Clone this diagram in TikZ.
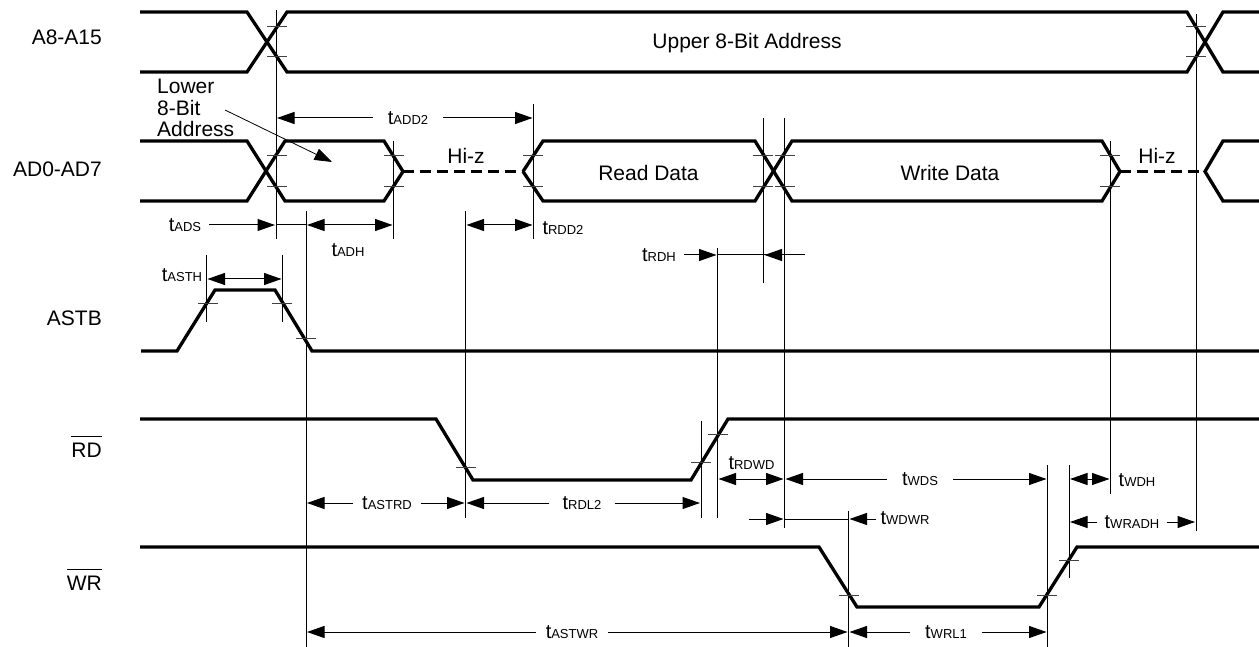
\documentclass[tikz,border=0pt]{standalone}
\usepackage{fontspec}
\setmainfont{Liberation Sans}
\usetikzlibrary{arrows.meta, calc}
\newcommand{\tsub}[1]{t{\fontsize{13}{13}\selectfont #1}}
\newcommand{\nbar}[1]{\vbox{\hrule height 0.9pt \kern 6pt \hbox{#1}}}
\tikzset{
    wave/.style={line width=3.3pt},
    hiz/.style={line width=3.3pt, dash pattern=on 11pt off 6pt},
    vmark/.style={line width=1pt},
    tickmark/.style={line width=1pt, black!75},
    dim/.style={line width=1pt, -{Triangle[length=17.5pt,width=12pt]}, shorten >=1pt},
    dimboth/.style={dim, {Triangle[length=17.5pt,width=12pt]}-{Triangle[length=17.5pt,width=12pt]}, shorten <=1pt},
    sigtext/.style={anchor=base east, inner sep=0pt, font=\fontsize{21}{21.5}\selectfont},
    wavetext/.style={anchor=base, inner sep=0pt, font=\fontsize{21}{21.5}\selectfont},
    tlabel/.style={inner ysep=0pt, font=\fontsize{20}{20}\selectfont},
}
\begin{document}
\begin{tikzpicture}[x=1pt,y=-1pt]
    \useasboundingbox (0,0) rectangle (1259,647);
    \node[sigtext] (A8) at (102,45) {A8-A15};
    \node[sigtext] (AD) at (102,177) {AD0-AD7};
    \node[sigtext] (ASTB) at (102,325) {ASTB};
    \node[sigtext] (RD) at (102,457.7) {\nbar{RD}};
    \node[sigtext] (WR) at (102,590) {\nbar{WR}};
    \draw[wave] (140,12) -- (247,12) -- (287,72) -- (1187,72) -- (1223,12) -- (1259,12);
    \draw[wave] (140,72) -- (247,72) -- (287,12) -- (1187,12) -- (1223,72) -- (1259,72);
    \draw[wave] (140,141) -- (247,141) -- (285,201) -- (384,201) -- (403,171.5);
    \draw[wave] (140,201) -- (247,201) -- (285,141) -- (384,141) -- (403,171.5);
    \draw[hiz] (403,171.5) -- (523,171.5);
    \draw[wave] (523,171.5) -- (543,141) -- (755,141) -- (792,201) -- (1102,201) -- (1120,171.5);
    \draw[wave] (523,171.5) -- (543,201) -- (755,201) -- (792,141) -- (1102,141) -- (1120,171.5);
    \draw[hiz] (1120,171.5) -- (1205,171.5);
    \draw[wave] (1259,141) -- (1223,141) -- (1205,171.5) -- (1223,201) -- (1259,201);
    \draw[wave] (141,351) -- (177,351) -- (215,290) -- (275,290) -- (312,351) -- (1259,351);
    \draw[wave] (140,419) -- (436,419) -- (473,480) -- (691,480) -- (728,419) -- (1259,419);
    \draw[wave] (140,547) -- (819,547) -- (857,607) -- (1039,607) -- (1077,547) -- (1259,547);
    \node[wavetext] (upper) at (747,48.5) {Upper 8-Bit Address};
    \node[wavetext] (read) at (648.5,180.7) {Read Data};
    \node[wavetext] (write) at (950,180.7) {Write Data};
    \node[wavetext] (hiza) at (466,163.5) {Hi-z};
    \node[wavetext] (hizb) at (1157,163.5) {Hi-z};
    \node[wavetext, anchor=west, align=left] (lower) at (157,108) {Lower\\8-Bit\\Address};
    \coordinate (lowtail) at (225,110);
    \coordinate (lowtip) at (332,162);
    \draw[line width=0.8pt, -{Triangle[length=17.5pt,width=12pt]}] (lowtail) -- (lowtip);
    \foreach \nm/\x/\ya/\yb in {va/276/10/239, vb/306/211/647, vc/393.5/141/239, vd/465.5/211/518,
        ve/533.5/104/239, vf/206.5/255/322, vg/282.5/255/322, vh/701/421/518, vi/717.5/248/518, vj/763.5/118/283,
        vk/784.5/118/528, vm/848.5/511/647, vn/1047.5/465/647, vp/1069/465/578, vq/1110.5/141/494, vr/1196/14/531} {
        \coordinate (\nm) at (\x,\ya);
        \coordinate (\nm e) at (\x,\yb);
        \draw[vmark] (\nm) -- (\nm e);
    }
    \foreach \x/\y in {277/26.5, 277/57, 277/156, 277/187, 393.5/156, 393.5/187, 533/156, 533/187,
        763/156, 763/187, 785/156, 785/187, 1110/156, 1110/187, 1196/26.5, 1196/57,
        208/303, 282/303, 306/338, 466/467, 701/462, 718/434, 849/595, 1047/595, 1069/560} {
        \draw[tickmark] (\x-10,\y) -- (\x+10,\y);
    }
    \foreach \nm/\txt/\x/\y/\gap in {tADS/ADS/185/225/8, tADH/ADH/348/250/0, tADD/ADD2/408/118/14.5, tRDD/RDD2/563/228/0,
        tASTH/ASTH/182/275/0, tRDH/RDH/659/255/8, tRDWD/RDWD/751.5/463/0, tWDS/WDS/920/479/15,
        tWDWR/WDWR/905/518/4, tWDH/WDH/1137/480/0, tWRADH/WRADH/1132/522/7, tASTRD/ASTRD/387/503/9,
        tRDL/RDL2/582/503/13, tASTWR/ASTWR/572/632/10, tWRL/WRL1/946/632/15} {
        \node[tlabel, inner xsep=\gap pt] (\nm) at (\x,\y) {\tsub{\txt}};
    }
    \draw[dim] (tADD) -- (va |- tADD);
    \draw[dim] (tADD) -- (ve |- tADD);
    \draw[dim] (tADS) -- (va |- tADS);
    \draw[vmark] (va |- tADS) -- (vb |- tADS);
    \draw[dimboth] (vb |- tADS) -- (vc |- tADS);
    \draw[dimboth] (vd |- tADS) -- (ve |- tADS);
    \draw[dimboth] (vf |- 0,279) -- (vg |- 0,279);
    \draw[dim] (tRDH) -- (vi |- tRDH);
    \coordinate (rdhend) at (805,255);
    \draw[vmark] (vi |- rdhend) -- (rdhend);
    \draw[dim] (rdhend) -- (vj |- rdhend);
    \draw[dimboth] (vi |- 0,479) -- (vk |- 0,479);
    \draw[dim] (tWDS) -- (vk |- tWDS);
    \draw[dim] (tWDS) -- (vn |- tWDS);
    \coordinate (wdwrend) at (749,519);
    \draw[dim] (wdwrend) -- (vk |- wdwrend);
    \draw[vmark] (vk |- wdwrend) -- (vm |- wdwrend);
    \draw[dim] (tWDWR.west |- wdwrend) -- (vm |- wdwrend);
    \draw[dimboth] (vp |- 0,479) -- (vq |- 0,479);
    \draw[dim] (tWRADH) -- (vp |- tWRADH);
    \draw[dim] (tWRADH) -- (vr |- tWRADH);
    \draw[dim] (tASTRD) -- (vb |- tASTRD);
    \draw[dim] (tASTRD) -- (vd |- tASTRD);
    \draw[dim] (tRDL) -- (vd |- tRDL);
    \draw[dim] (tRDL) -- (vh |- tRDL);
    \draw[dim] (tASTWR) -- (vb |- tASTWR);
    \draw[dim] (tASTWR) -- (vm |- tASTWR);
    \draw[dim] (tWRL) -- (vm |- tWRL);
    \draw[dim] (tWRL) -- (vn |- tWRL);
\end{tikzpicture}
\end{document}
